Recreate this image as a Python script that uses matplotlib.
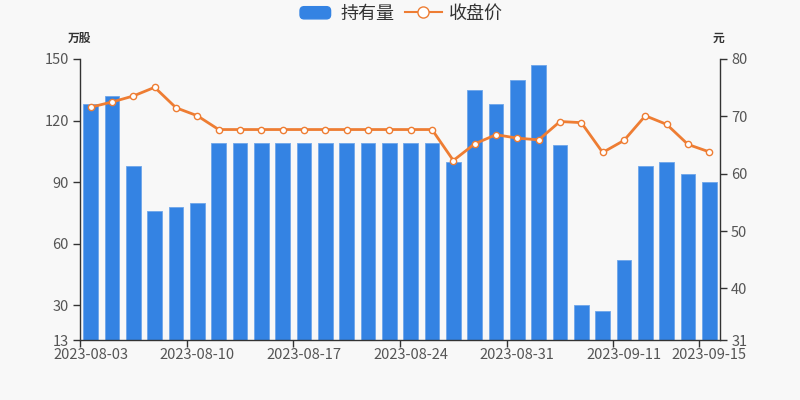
import matplotlib
matplotlib.use("Agg")
import matplotlib.pyplot as plt
from matplotlib.patches import FancyBboxPatch, Rectangle
from matplotlib.lines import Line2D
from matplotlib.legend_handler import HandlerPatch
import numpy as np

plt.rcParams['font.family'] = ['Noto Sans CJK SC', 'DejaVu Sans']

dates = ["2023-08-03", "2023-08-04", "2023-08-07", "2023-08-08", "2023-08-09",
         "2023-08-10", "2023-08-11", "2023-08-14", "2023-08-15", "2023-08-16",
         "2023-08-17", "2023-08-18", "2023-08-21", "2023-08-22", "2023-08-23",
         "2023-08-24", "2023-08-25", "2023-08-28", "2023-08-29", "2023-08-30",
         "2023-08-31", "2023-09-01", "2023-09-04", "2023-09-05", "2023-09-06",
         "2023-09-11", "2023-09-12", "2023-09-13", "2023-09-14", "2023-09-15"]
holdings = [128, 132, 98, 76, 78, 80, 109, 109, 109, 109,
            109, 109, 109, 109, 109, 109, 109, 100, 135, 128,
            140, 147, 108, 30, 27, 52, 98, 100, 94, 90]
close = [71.6, 72.5, 73.55, 75.06, 71.5, 70.1, 67.7, 67.7, 67.7, 67.7,
         67.7, 67.7, 67.7, 67.7, 67.7, 67.7, 67.7, 62.3, 65.2, 66.8,
         66.2, 65.9, 69.1, 68.9, 63.7, 65.8, 70.1, 68.6, 65.1, 63.8]
label_idx = [0, 5, 10, 15, 20, 25, 29]
left_ticks = [13, 30, 60, 90, 120, 150]
right_ticks = [31, 40, 50, 60, 70, 80]

BG = "#f8f8f8"
BLUE = "#3483e3"
ORANGE = "#ee7d33"
AXC = "#333333"
TXT = "#555555"


class HandlerRound(HandlerPatch):
    def create_artists(self, legend, orig_handle, xdescent, ydescent, width, height, fontsize, trans):
        p = FancyBboxPatch((-xdescent + 2, -ydescent + 1), width - 4, height - 2,
                           boxstyle="round,pad=0,rounding_size=3",
                           facecolor=BLUE, edgecolor=BLUE, transform=trans)
        return [p]


fig = plt.figure(figsize=(8, 4), dpi=100, facecolor=BG)
ax = fig.add_axes([0.1, 0.15, 0.8, 0.7025])
ax.set_facecolor(BG)
x = np.arange(len(dates))
ax.bar(x, holdings, width=0.7, color=BLUE, edgecolor="#6ea6ea", linewidth=0.6, zorder=2)
ax.set_ylim(13, 150)
ax.set_xlim(-0.5, len(dates) - 0.5)
ax.set_yticks(left_ticks)
ax.set_yticklabels([str(v) for v in left_ticks])

ax2 = ax.twinx()
ax2.plot(x, close, color=ORANGE, linewidth=2, marker="o", markersize=4.5,
         markerfacecolor="white", markeredgecolor=ORANGE, markeredgewidth=1, zorder=3)
ax2.set_ylim(31, 80)
ax2.set_yticks(right_ticks)
ax2.set_yticklabels([str(v) for v in right_ticks])

# x ticks: marks at band boundaries, labels at band centres
ax.set_xticks([i - 0.5 for i in label_idx])
ax.set_xticklabels([""] * len(label_idx))
ax.set_xticks(label_idx, minor=True)
ax.set_xticklabels([dates[i] for i in label_idx], minor=True)
ax.tick_params(axis="x", which="major", length=5, width=1, color=AXC, direction="out")
ax.tick_params(axis="x", which="minor", length=0, labelsize=10.5, labelcolor=TXT, pad=6)
ax.tick_params(axis="y", length=5, width=1, color=AXC, labelsize=10.5, labelcolor=TXT, pad=3)
ax2.tick_params(axis="y", length=5, width=1, color=AXC, labelsize=10.5, labelcolor=TXT, pad=3)

for a in (ax, ax2):
    a.spines["top"].set_visible(False)
    for s in ("left", "right", "bottom"):
        a.spines[s].set_color(AXC)
        a.spines[s].set_linewidth(1)
ax.spines["right"].set_visible(False)
ax2.spines["left"].set_visible(False)
ax2.spines["bottom"].set_visible(False)

fig.text(80 / 800, 1 - 38 / 400, "万股", ha="center", va="center", fontsize=8.5,
         fontweight="bold", color=AXC)
fig.text(719 / 800, 1 - 38 / 400, "元", ha="center", va="center", fontsize=8.5,
         fontweight="bold", color=AXC)

# legend
h1 = Rectangle((0, 0), 1, 1, facecolor=BLUE, edgecolor=BLUE)
h2 = Line2D([0], [0], color=ORANGE, linewidth=1.5, marker="o", markersize=8,
            markerfacecolor="white", markeredgecolor=ORANGE)
leg = fig.legend([h1, h2], ["持有量", "收盘价"], loc="center", bbox_to_anchor=(0.5, 1 - 14 / 400),
                 ncol=2, frameon=False, fontsize=13, handlelength=2.0, handleheight=0.9,
                 columnspacing=0.6, handletextpad=0.4, labelcolor="#333333",
                 handler_map={Rectangle: HandlerRound()})

fig.savefig("out.png", dpi=100, facecolor=BG)
